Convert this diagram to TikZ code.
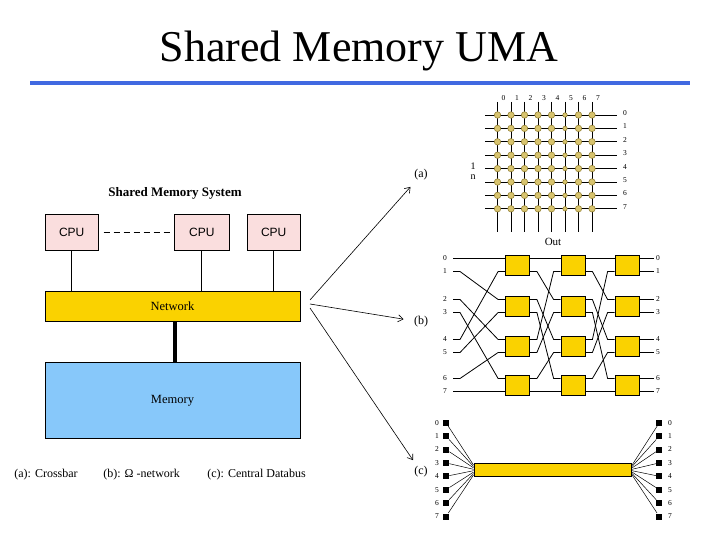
\documentclass[tikz,border=0pt]{standalone}
\usepackage{fontspec}
\setmainfont{Liberation Serif}
\setsansfont{Liberation Sans}
\usetikzlibrary{arrows.meta}
\definecolor{netgold}{RGB}{250,210,0}
\definecolor{memblue}{RGB}{135,200,250}
\definecolor{cpupink}{RGB}{250,222,222}
\definecolor{dotfill}{RGB}{215,195,110}
\definecolor{dotdraw}{RGB}{140,120,40}
\definecolor{rulerblue}{RGB}{65,105,225}

\begin{document}
\begin{tikzpicture}[x=1pt,y=-1pt,line width=0.8pt,>={Straight Barb[length=5pt,width=7pt]},
    cpu/.style={draw,fill=cpupink,minimum height=36pt,font=\sffamily\fontsize{12}{14}\selectfont},
    bigbox/.style={draw,minimum width=255pt,font=\fontsize{12.5}{14}\selectfont},
    switch/.style={draw,fill=netgold,minimum width=24pt,minimum height=20pt,inner sep=0pt},
    xdot/.style={circle,draw=dotdraw,fill=dotfill,line width=0.5pt,inner sep=0pt},
    sq/.style={fill=black,minimum size=6pt,inner sep=0pt},
    num/.style={inner sep=2pt,font=\fontsize{7.5}{8}\selectfont},
    lbl/.style={inner sep=6pt,font=\fontsize{12}{14}\selectfont}]
    \useasboundingbox (0,0) rectangle (720,540);

    \node (title) at (359,62) [anchor=base,font=\fontsize{44}{48}\selectfont] {Shared Memory UMA};
    \draw[rulerblue,line width=3.5pt] (30,83) -- (690,83);

    % shared memory system
    \node (heading) at (175,193) [font=\bfseries\fontsize{13}{15}\selectfont] {Shared Memory System};
    \node (cpu1) at (71.7,232) [cpu,minimum width=53pt] {CPU};
    \node (cpu2) at (201.8,232) [cpu,minimum width=55pt] {CPU};
    \node (cpu3) at (273.7,232) [cpu,minimum width=53pt] {CPU};
    \node (network) at (172.5,306.3) [bigbox,fill=netgold,minimum height=29.3pt] {Network};
    \node (memory) at (172.5,400.3) [bigbox,fill=memblue,minimum height=76pt] {Memory};
    \draw[dash pattern=on 6pt off 4pt,shorten <=5pt,shorten >=4pt] (cpu1) -- (cpu2);
    \draw (cpu1) -- (cpu1 |- network.north);
    \draw (cpu2) -- (cpu2 |- network.north);
    \draw (cpu3) -- (cpu3 |- network.north);
    \draw[line width=3.5pt] ([xshift=2.5pt]network.south) -- ([xshift=2.5pt]memory.north);
    \node (capa) at (14,475) [anchor=west,inner sep=0pt,font=\fontsize{12}{14}\selectfont] {(a): Crossbar};
    \node (capb) at (103,475) [anchor=west,inner sep=0pt,font=\fontsize{12}{14}\selectfont] {(b): Ω -network};
    \node (capc) at (207,475) [anchor=west,inner sep=0pt,font=\fontsize{12}{14}\selectfont] {(c): Central Databus};

    \node (lbla) at (421,175) [lbl] {(a)};
    \node (lblb) at (421,322) [lbl,inner xsep=10pt] {(b)};
    \node (lblc) at (421,472) [lbl] {(c)};
    \coordinate (fan1) at (310,300);
    \coordinate (fan2) at (310,304);
    \coordinate (fan3) at (310,308);
    \draw[->,line width=0.6pt] (fan1) -- (lbla);
    \draw[->,line width=0.6pt] (fan2) -- (lblb);
    \draw[->,line width=0.6pt] (fan3) -- (lblc);

    % (a) crossbar
    \foreach \c in {0,...,7} {
      \draw ({497.5+13.5*\c},102) -- ({497.5+13.5*\c},232);
      \node[num] at ({503.5+13.5*\c},98) {\c};
    }
    \foreach \r in {0,...,7} {
      \draw (485,{115+13.4*\r}) -- (617,{115+13.4*\r});
      \node[num] at (625,{113+13.4*\r}) {\r};
    }
    \foreach \c/\s in {0/6.5,1/6.5,2/6.5,3/6.5,4/6.5,5/4.5,6/6.5,7/6.5}
      \foreach \r in {0,...,7}
        \node[xdot,minimum size=\s pt] (x\c\r) at ({497.5+13.5*\c},{115+13.4*\r}) {};
    \node (inputs) at (473,171) [align=center,inner sep=0pt,font=\fontsize{10}{10}\selectfont] {1\\n};
    \node (out) at (553,242) [font=\fontsize{11}{12}\selectfont] {Out};

    % (b) omega network
    \foreach \s/\x in {1/517.5,2/573,3/627}
      \foreach \k/\y/\u/\l in {0/265/0/1,1/306/2/3,2/346/4/5,3/385/6/7} {
        \node[switch] (sw\s\k) at (\x,\y) {};
        \coordinate (s\s-in\u) at ([yshift=6.5pt]sw\s\k.west);
        \coordinate (s\s-in\l) at ([yshift=-6.5pt]sw\s\k.west);
        \coordinate (s\s-out\u) at ([yshift=6.5pt]sw\s\k.east);
        \coordinate (s\s-out\l) at ([yshift=-6.5pt]sw\s\k.east);
      }
    \foreach \i/\y in {0/258.5,1/271.5,2/299.5,3/312.5,4/339.5,5/352.5,6/378.5,7/391.5} {
      \node[num] (in\i) at (445,\y) {\i};
      \coordinate (s0-out\i) at (453,\y);
      \node[num] (res\i) at (658,\y) {\i};
      \draw (s3-out\i) -- (res\i);
    }
    \foreach \s/\t in {0/1,1/2,2/3}
      \foreach \q/\p in {0/0,1/2,2/4,3/6,4/1,5/3,6/5,7/7}
        \draw (s\s-out\q) -- ++(7,0) -- ([xshift=-7pt]s\t-in\p) -- (s\t-in\p);

    % (c) central databus
    \node (bus) at (552.8,470) [draw,fill=netgold,minimum width=157.7pt,minimum height=13.4pt,inner sep=0pt] {};
    \foreach \i [evaluate=\i as \yy using 422.7+13.4*\i, evaluate=\i as \dy using (3.5-\i)*1.4] in {0,...,7} {
      \node[sq] (lsq\i) at (446,\yy) {};
      \node[sq] (rsq\i) at (659.3,\yy) {};
      \node[num] at (437,\yy) {\i};
      \node[num] at (670,\yy) {\i};
      \draw[line width=0.5pt] (lsq\i) -- ([yshift=\dy pt]bus.west);
      \draw[line width=0.5pt] (rsq\i) -- ([yshift=\dy pt]bus.east);
    }
\end{tikzpicture}
\end{document}
